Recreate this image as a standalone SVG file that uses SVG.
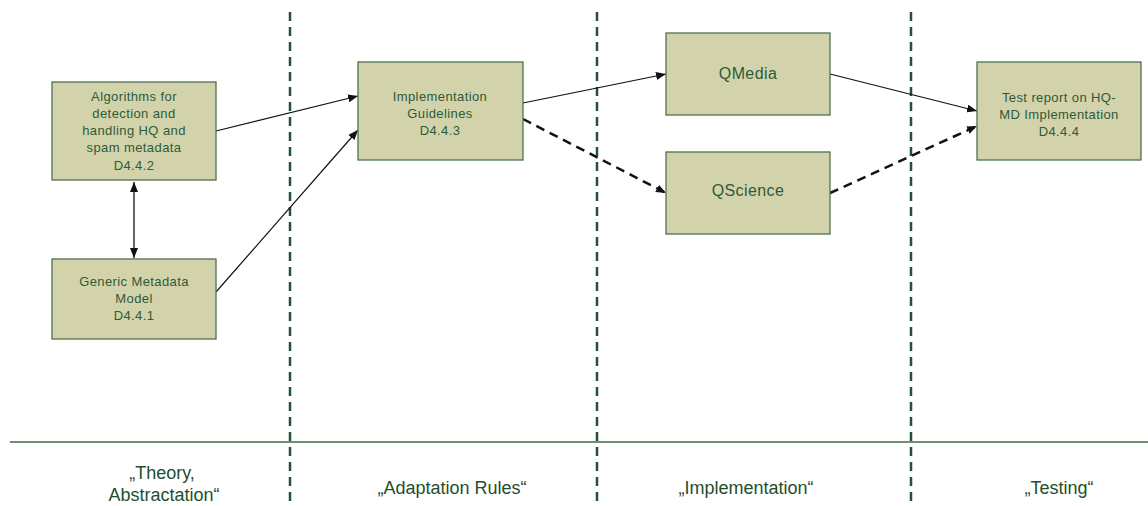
<svg xmlns="http://www.w3.org/2000/svg" width="1148" height="506" viewBox="0 0 1148 506">
<style>
.box{fill:#d3d3ab;stroke:#4e7050;stroke-width:1.3}
.t{font-family:"Liberation Sans",Arial,sans-serif;font-size:13px;letter-spacing:0.4px;fill:#2e5a38;text-anchor:middle}
.tb{font-family:"Liberation Sans",Arial,sans-serif;font-size:16px;letter-spacing:0.4px;fill:#2e5a38;text-anchor:middle}
.lbl{font-family:"Liberation Sans",Arial,sans-serif;font-size:18px;fill:#1f4e2c;text-anchor:middle}
.sep{stroke:#245232;stroke-width:2.5;stroke-dasharray:9,6;fill:none}
.c{stroke:#111;stroke-width:1.2;fill:none;marker-end:url(#ah)}
.cd{stroke:#111;stroke-width:2.5;stroke-dasharray:9,6;fill:none;marker-end:url(#ahd)}
</style>
<defs>
<marker id="ah" markerWidth="10" markerHeight="8" refX="10" refY="4" orient="auto" markerUnits="userSpaceOnUse"><path d="M0,0 L10,4 L0,8 Z" fill="#111"/></marker>
<marker id="ahd" markerWidth="10" markerHeight="8" refX="10" refY="4" orient="auto" markerUnits="userSpaceOnUse"><path d="M0,0 L10,4 L0,8 Z" fill="#111"/></marker>
<marker id="ag" markerWidth="10" markerHeight="8" refX="10" refY="4" orient="auto-start-reverse" markerUnits="userSpaceOnUse"><path d="M0,0 L10,4 L0,8 Z" fill="#111"/></marker>
</defs>
<g id="lanes">
<line class="sep" x1="290" y1="12" x2="290" y2="502"/>
<line class="sep" x1="597" y1="12" x2="597" y2="502"/>
<line class="sep" x1="911" y1="12" x2="911" y2="502"/>
<line x1="10" y1="442" x2="1148" y2="442" stroke="#3d6a46" stroke-width="1.5"/>
</g>
<g id="connectors">
<line class="c" x1="216" y1="131" x2="358" y2="96"/>
<line class="c" x1="216" y1="292" x2="358" y2="130"/>
<line class="c" x1="523" y1="103" x2="666" y2="74"/>
<line class="cd" x1="523" y1="119" x2="666" y2="193"/>
<line class="c" x1="830" y1="74" x2="977" y2="111"/>
<line class="cd" x1="830" y1="193" x2="977" y2="126"/>
<line x1="134" y1="182" x2="134" y2="258" stroke="#555" stroke-width="1.8" marker-start="url(#ag)" marker-end="url(#ag)"/>
</g>
<g id="n-algorithms">
<rect class="box" x="52" y="82" width="164" height="98"/>
<text class="t" x="134" y="101">Algorithms for</text>
<text class="t" x="134" y="118">detection and</text>
<text class="t" x="134" y="135">handling HQ and</text>
<text class="t" x="134" y="152">spam metadata</text>
<text class="t" x="134" y="170">D4.4.2</text>
</g>
<g id="n-generic">
<rect class="box" x="52" y="259" width="164" height="80"/>
<text class="t" x="134" y="286">Generic Metadata</text>
<text class="t" x="134" y="303">Model</text>
<text class="t" x="134" y="320">D4.4.1</text>
</g>
<g id="n-guidelines">
<rect class="box" x="358" y="62" width="165" height="98"/>
<text class="t" x="440" y="101">Implementation</text>
<text class="t" x="440" y="118">Guidelines</text>
<text class="t" x="440" y="135">D4.4.3</text>
</g>
<g id="n-qmedia">
<rect class="box" x="666" y="33" width="164" height="82"/>
<text class="tb" x="748" y="79">QMedia</text>
</g>
<g id="n-qscience">
<rect class="box" x="666" y="152" width="164" height="82"/>
<text class="tb" x="748" y="196">QScience</text>
</g>
<g id="n-test">
<rect class="box" x="977" y="62" width="164" height="98"/>
<text class="t" x="1059" y="102">Test report on HQ-</text>
<text class="t" x="1059" y="119">MD Implementation</text>
<text class="t" x="1059" y="136">D4.4.4</text>
</g>
<g id="labels">
<text class="lbl" x="162" y="479">„Theory,</text>
<text class="lbl" x="164" y="501">Abstractation“</text>
<text class="lbl" x="452" y="494">„Adaptation Rules“</text>
<text class="lbl" x="746" y="494">„Implementation“</text>
<text class="lbl" x="1059" y="494">„Testing“</text>
</g>
</svg>
